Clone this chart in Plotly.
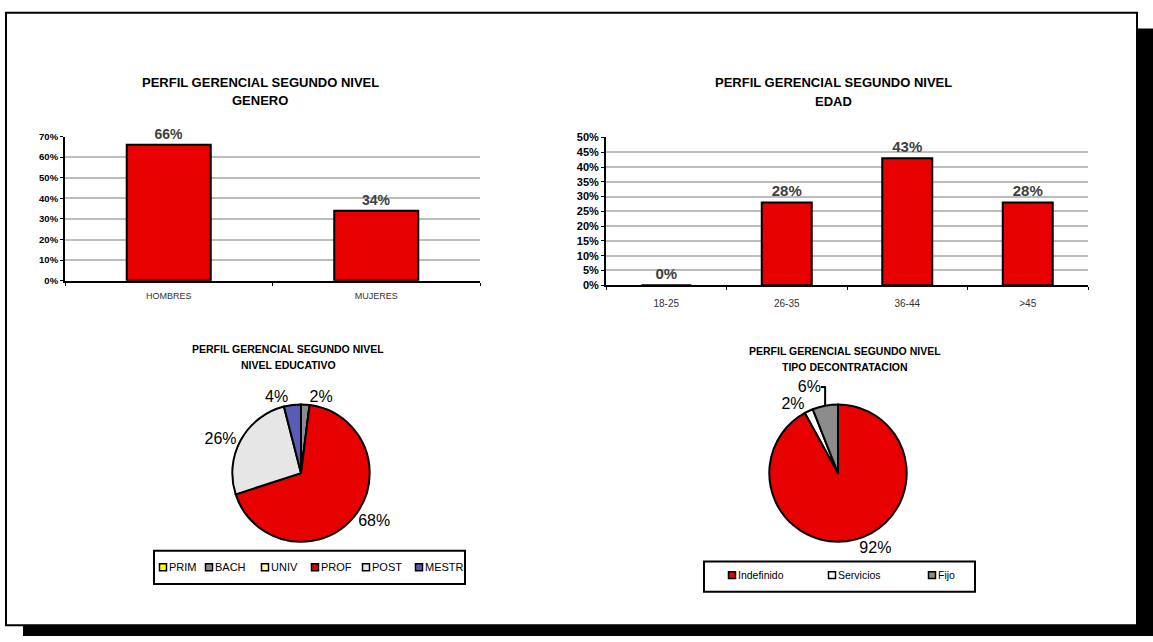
import plotly.graph_objects as go

W, H = 1153, 642

# ---------------- data ----------------
genero_cats = ["HOMBRES", "MUJERES"]
genero_vals = [66, 34]

edad_cats = ["18-25", "26-35", "36-44", ">45"]
edad_vals = [0, 28, 43, 28]

edu_labels = ["PRIM", "BACH", "UNIV", "PROF", "POST", "MESTR"]
edu_vals = [0, 2, 0, 68, 26, 4]
edu_colors = ["#ffff00", "#8c8c8c", "#ffff99", "#e60000", "#e6e6e6", "#5b5bb5"]

contr_labels = ["Indefinido", "Servicios", "Fijo"]
contr_vals = [92, 2, 6]
contr_colors = ["#e60000", "#ffffff", "#8c8c8c"]

title_main = "PERFIL GERENCIAL SEGUNDO NIVEL"
sub_titles = ["GENERO", "EDAD", "NIVEL EDUCATIVO", "TIPO DECONTRATACION"]

FONT = "Arial, 'Liberation Sans', sans-serif"
RED = "#e60000"


def px(x):
    return x / W


def py(y):
    return 1 - y / H


def pct(vals):
    return [f"{v}%" for v in vals]


def pie_text(vals):
    return [f"{v}%" if v else "" for v in vals]


fig = go.Figure()

fig.add_trace(go.Bar(
    x=genero_cats, y=genero_vals, text=pct(genero_vals), textposition="outside",
    textfont=dict(size=14, color="#404040", family=FONT), texttemplate="<b>%{text}</b>",
    marker=dict(color=RED, line=dict(color="black", width=2)), width=0.405,
    xaxis="x", yaxis="y", showlegend=False, cliponaxis=False,
))

fig.add_trace(go.Bar(
    x=edad_cats, y=edad_vals, text=pct(edad_vals), textposition="outside",
    textfont=dict(size=15, color="#404040", family=FONT), texttemplate="<b>%{text}</b>",
    marker=dict(color=RED, line=dict(color="black", width=2)), width=0.415,
    xaxis="x2", yaxis="y2", showlegend=False, cliponaxis=False,
))

fig.add_trace(go.Pie(
    labels=edu_labels, values=edu_vals, sort=False, direction="clockwise", rotation=0,
    text=pie_text(edu_vals), textinfo="text", textposition="outside",
    textfont=dict(size=16, color="black", family=FONT),
    marker=dict(colors=edu_colors, line=dict(color="black", width=2)),
    domain=dict(x=[px(231), px(371)], y=[py(546), py(406)]),
    showlegend=False, hoverinfo="label+percent",
))

fig.add_trace(go.Pie(
    labels=contr_labels, values=contr_vals, sort=False, direction="clockwise", rotation=0,
    text=pie_text(contr_vals), textinfo="text", textposition="outside",
    textfont=dict(size=16, color="black", family=FONT),
    marker=dict(colors=contr_colors, line=dict(color="black", width=2)),
    domain=dict(x=[px(768), px(908)], y=[py(546), py(406)]),
    showlegend=False, hoverinfo="label+percent",
))

axis_common = dict(showline=True, linecolor="black", linewidth=2, mirror=False)

fig.update_layout(
    width=W, height=H,
    margin=dict(l=0, r=0, t=0, b=0),
    paper_bgcolor="white", plot_bgcolor="rgba(0,0,0,0)",
    font=dict(family=FONT, color="black"),
    xaxis=dict(domain=[px(65), px(480)], anchor="y", **axis_common,
               ticks="outside", ticklen=3, tickcolor="black", tickson="boundaries",
               tickfont=dict(size=9, color="#333333"), ticklabelstandoff=5),
    yaxis=dict(domain=[py(280), py(133)], anchor="x", range=[0, 70], dtick=10,
               ticksuffix="%", **axis_common, ticks="outside", ticklen=3, tickcolor="black",
               showgrid=True, gridcolor="#bdbdbd", gridwidth=1.5,
               tickfont=dict(size=9.5, color="black", weight="bold"), zeroline=False),
    xaxis2=dict(domain=[px(606), px(1088)], anchor="y2", **axis_common,
                ticks="outside", ticklen=3, tickcolor="black", tickson="boundaries",
                tickfont=dict(size=10, color="#333333"), ticklabelstandoff=8),
    yaxis2=dict(domain=[py(284.5), py(134)], anchor="x2", range=[0, 50], dtick=5,
                ticksuffix="%", **axis_common, ticks="outside", ticklen=3, tickcolor="black",
                showgrid=True, gridcolor="#bdbdbd", gridwidth=1.5,
                tickfont=dict(size=11, color="black", weight="bold"), zeroline=False),
    bargap=0.6,
)

# panel with drop shadow
fig.add_shape(type="rect", xref="paper", yref="paper", x0=px(23), x1=1, y0=0, y1=py(23),
              fillcolor="black", line=dict(width=0), layer="below")
fig.add_shape(type="rect", xref="paper", yref="paper", x0=px(6), x1=px(1137), y0=py(631), y1=py(7),
              fillcolor="white", line=dict(color="black", width=2), layer="below")

# titles
titles = [
    (260, 78, 96, 13, sub_titles[0]),
    (833, 78, 97, 13, sub_titles[1]),
    (288, 350, 366, 10.5, sub_titles[2]),
    (845, 352, 368, 10.5, sub_titles[3]),
]
for cx, y1, y2, fs, sub in titles:
    fig.add_annotation(x=px(cx), y=py(y1), xref="paper", yref="paper", showarrow=False,
                       text=f"<b>{title_main}</b>", font=dict(size=fs, color="black"),
                       xanchor="center", yanchor="middle")
    fig.add_annotation(x=px(cx), y=py(y2), xref="paper", yref="paper", showarrow=False,
                       text=f"<b>{sub}</b>", font=dict(size=fs, color="black"),
                       xanchor="center", yanchor="middle")


# legends (boxed, Excel style)
def add_legend(box, key_xs, key_y, labels, colors, fs):
    x0, y0, x1, y1 = box
    fig.add_shape(type="rect", xref="paper", yref="paper", x0=px(x0), x1=px(x1),
                  y0=py(y1), y1=py(y0), fillcolor="white", line=dict(color="black", width=2))
    for kx, lab, col in zip(key_xs, labels, colors):
        fig.add_shape(type="rect", xref="paper", yref="paper",
                      x0=px(kx - 3.5), x1=px(kx + 3.5), y0=py(key_y + 3.5), y1=py(key_y - 3.5),
                      fillcolor=col, line=dict(color="black", width=1.5))
        fig.add_annotation(x=px(kx + 4), y=py(key_y), xref="paper", yref="paper", showarrow=False,
                           text=lab, font=dict(size=fs, color="black"),
                           xanchor="left", yanchor="middle")


add_legend((154, 555, 465, 589), [163, 209, 265, 315, 366, 419], 572, edu_labels, edu_colors, 11)
add_legend((704, 566, 975, 597), [732, 832, 932], 580, contr_labels, contr_colors, 10.5)

fig.write_html("out.html", config={"displayModeBar": False},
               post_script="document.body.style.margin='0px';")
